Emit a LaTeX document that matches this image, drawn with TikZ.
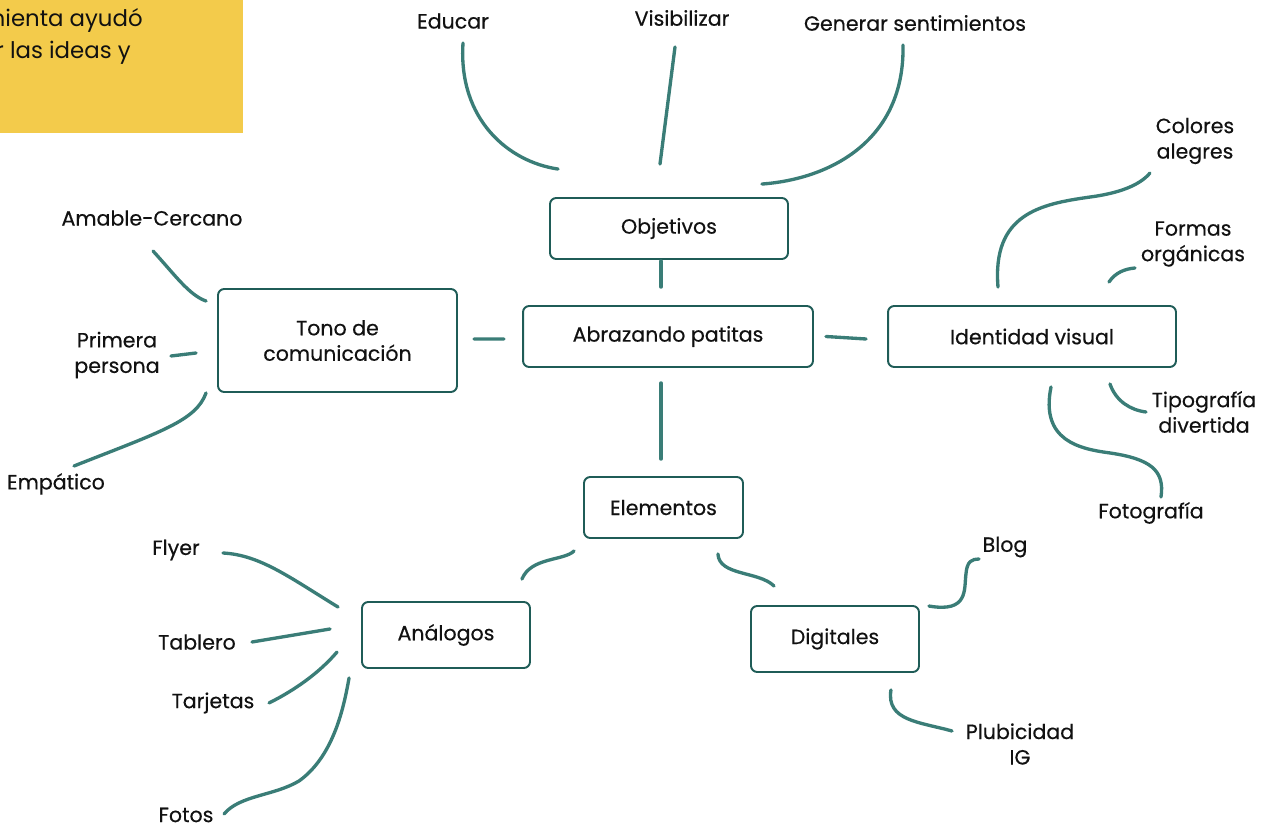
\documentclass[tikz,border=0pt]{standalone}
\usepackage{fontspec}
\setmainfont{Poppins}
\newfontfamily\labelfont{Poppins}[FakeBold=0.4]
\usetikzlibrary{positioning}
\definecolor{linkteal}{HTML}{3A7D77}
\definecolor{boxteal}{HTML}{1F5C57}
\definecolor{notey}{HTML}{F3CB4B}
\definecolor{ink}{HTML}{111111}

\begin{document}
\begin{tikzpicture}[x=0.02cm, y=-0.02cm,
    box/.style={draw=boxteal, line width=1.1pt, rounded corners=3.5pt, align=center, text=ink, font=\labelfont\fontsize{11.7}{14.5}\selectfont, inner sep=0pt},
    leaf/.style={align=center, text=ink, font=\labelfont\fontsize{11.7}{14.5}\selectfont, inner sep=1pt},
    link/.style={draw=linkteal, line width=1.9pt, line cap=round}]
    \useasboundingbox (0,0) rectangle (1265,827);

    \begin{scope}
        \clip (0,0) rectangle (243,133);
        \fill[notey] (0,0) rectangle (243,133);
        \node[anchor=base east, inner sep=0pt, text=ink, font=\fontsize{13}{16}\selectfont] (notea) at (143,27) {mienta ayudó};
        \node[anchor=base east, inner sep=0pt, text=ink, font=\fontsize{13}{16}\selectfont] (noteb) at (131,59) {r las ideas y};
    \end{scope}

    \node[box, minimum width=4.76cm, minimum height=1.22cm] (obj) at (669,228.5) {Objetivos};
    \node[box, minimum width=5.8cm, minimum height=1.22cm] (abr) at (668,336.5) {Abrazando patitas};
    \node[box, minimum width=4.78cm, minimum height=2.06cm] (tono) at (337.5,340.5) {Tono de\\comunicación};
    \node[box, minimum width=5.76cm, minimum height=1.22cm] (ident) at (1032,336.5) {Identidad visual};
    \node[box, minimum width=3.18cm, minimum height=1.22cm] (elem) at (663.5,507.5) {Elementos};
    \node[box, minimum width=3.36cm, minimum height=1.32cm] (digi) at (835,639) {Digitales};
    \node[box, minimum width=3.36cm, minimum height=1.32cm] (analog) at (446,635) {Análogos};

    \node[leaf] (edu) at (453,21) {Educar};
    \node[leaf] (vis) at (682,18) {Visibilizar};
    \node[leaf] (gen) at (915,23) {Generar sentimientos};
    \node[leaf] (amab) at (152,218) {Amable-Cercano};
    \node[leaf] (prim) at (117,355) {Primera\\persona};
    \node[leaf] (emp) at (56,484) {Empático};
    \node[leaf] (flyer) at (176,550) {Flyer};
    \node[leaf] (tabl) at (197,642) {Tablero};
    \node[leaf] (tarj) at (213,703) {Tarjetas};
    \node[leaf] (fotos) at (186,815) {Fotos};
    \node[leaf] (blog) at (1005,547) {Blog};
    \node[leaf] (publ) at (1020,744) {Plubicidad\\IG};
    \node[leaf] (col) at (1195,141) {Colores\\alegres};
    \node[leaf] (form) at (1193,244) {Formas\\orgánicas};
    \node[leaf] (tipo) at (1204,412) {Tipografía\\divertida};
    \node[leaf] (foto) at (1151,513) {Fotografía};

    % objetivos
    \draw[link] ([shift={(9,-28)}]obj.north west) .. controls +(-49,-7) and +(-5,77) .. ([shift={(10,22)}]edu.center);
    \draw[link] ([shift={(-9,-33)}]obj.north) -- ([shift={(-7,29)}]vis.center);
    \draw[link] ([shift={(-27,-13)}]obj.north east) .. controls +(69,-5) and +(2,95) .. ([shift={(-12,22)}]gen.center);

    % centro
    \draw[link] ([shift={(-8,1)}]obj.south) -- ([shift={(-7,-18)}]abr.north);
    \draw[link] ([shift={(-18,2.5)}]abr.west) -- ([shift={(16,-1.5)}]tono.east);
    \draw[link] ([shift={(12,0)}]abr.east) -- ([shift={(-21,2.5)}]ident.west);
    \draw[link] ([shift={(-7,15)}]abr.south) -- ([shift={(-2.5,-17)}]elem.north);

    % tono
    \draw[link] ([shift={(-11,13)}]tono.north west) .. controls +(-17,-6) and +(22,24) .. ([shift={(1,33)}]amab.center);
    \draw[link] ([shift={(-21,12.5)}]tono.west) -- ([shift={(54,1)}]prim.center);
    \draw[link] ([shift={(-11,0)}]tono.south west) .. controls +(-10,28) and +(86,-34) .. ([shift={(18,-18)}]emp.center);

    % elementos
    \draw[link] ([shift={(-9,12)}]elem.south west) .. controls +(-10,10) and +(9,-22) .. ([shift={(-9,-22)}]analog.north east);
    \draw[link] ([shift={(-26,15)}]elem.south east) .. controls +(1,22) and +(-15,-15) .. ([shift={(24,-19)}]digi.north west);

    % analogos
    \draw[link] ([shift={(-23,6)}]analog.north west) .. controls +(-49,-30) and +(37,2) .. ([shift={(47,3)}]flyer.center);
    \draw[link] ([shift={(-31,-6)}]analog.west) -- ([shift={(55,0)}]tabl.center);
    \draw[link] ([shift={(-24,17)}]analog.west) .. controls +(-18,21) and +(26,-13) .. ([shift={(56,0)}]tarj.center);
    \draw[link] ([shift={(-12,9)}]analog.south west) .. controls +(-5,28) and +(35,-25) .. ++(-50,103)
        .. controls +(-25,15) and +(16,-19) .. ([shift={(38,-1)}]fotos.center);

    % digitales
    \draw[link] ([shift={(9,1)}]digi.north east) .. controls +(40,7) and +(-2,15) .. ++(37,-32)
        .. controls +(1,-13) and +(-7,0) .. ([shift={(-26,12)}]blog.center);
    \draw[link] ([shift={(-29,17)}]digi.south east) .. controls +(-5,31) and +(-32,-9) .. ([shift={(-68,-13)}]publ.center);

    % identidad
    \draw[link] ([shift={(-34,-18)}]ident.north) .. controls +(-6,-73) and +(-50,7) .. ++(92,-90)
        .. controls +(30,-4) and +(-10,12) .. ([shift={(-45,32)}]col.center);
    \draw[link] ([shift={(-68,-23)}]ident.north east) .. controls +(7,-10) and +(-10,1) .. ([shift={(-58,24)}]form.center);
    \draw[link] ([shift={(-67,16)}]ident.south east) .. controls +(6,17) and +(-16,-2) .. ([shift={(-58,0)}]tipo.center);
    \draw[link] ([shift={(19,19)}]ident.south) .. controls +(-11,54) and +(-30,-4) .. ++(59,66)
        .. controls +(40,6) and +(4,-27) .. ([shift={(10,-16)}]foto.center);
\end{tikzpicture}
\end{document}
